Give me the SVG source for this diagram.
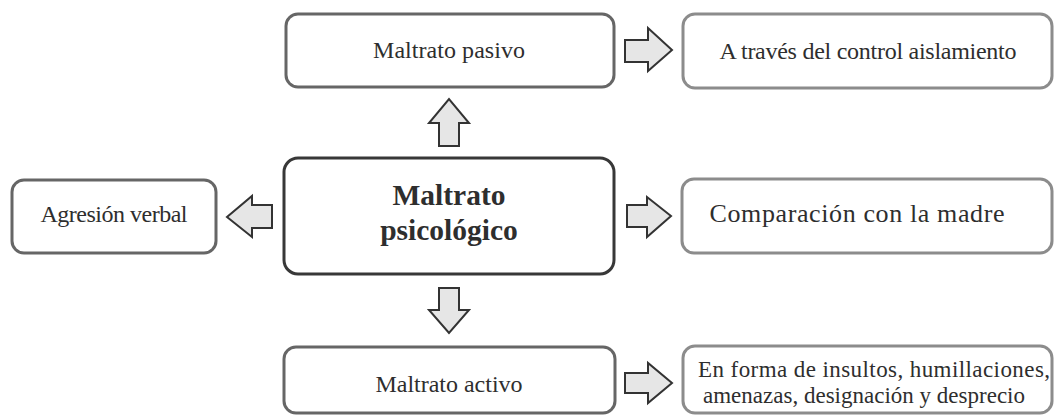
<svg xmlns="http://www.w3.org/2000/svg" width="1054" height="416" viewBox="0 0 1054 416">
<style>
text{font-family:"Liberation Serif","Times New Roman",serif;fill:#2e2e2e;text-anchor:middle;font-size:24px}
.b{font-weight:bold;font-size:29.5px}
.s{font-size:23px}
.l{font-size:26px}
.box{fill:#fff;stroke:#666;stroke-width:3}
.lt{stroke:#8c8c8c}
.main{stroke:#383838}
.arr{fill:#e6e6e6;stroke:#333;stroke-width:2;stroke-linejoin:miter}
</style>
<rect width="1054" height="416" fill="#fff"/>
<g id="connectors">
<polygon class="arr" points="439,146 439,123 429,123 449,99 469,123 459,123 459,146"/>
<polygon class="arr" points="439,288 459,288 459,310 469,310 449,333 429,310 439,310"/>
<polygon class="arr" points="272,205 252,205 252,196 227,217 252,237 252,228 272,228"/>
<polygon class="arr" points="627,205 647,205 647,197 671,216 647,237 647,227 627,227"/>
<polygon class="arr" points="625,40 648,40 648,28 672,50 648,71 648,62 625,62"/>
<polygon class="arr" points="625,373 648,373 648,363 672,383 648,403 648,393 625,393"/>
</g>
<g id="main">
<rect class="box main" x="284" y="158" width="330" height="116" rx="14"/>
<text class="b" x="449" y="205">Maltrato</text>
<text class="b" x="449" y="240">psicológico</text>
</g>
<g id="pasivo">
<rect class="box" x="286" y="14" width="328" height="73" rx="12"/>
<text x="449" y="58" textLength="152">Maltrato pasivo</text>
</g>
<g id="aislamiento">
<rect class="box lt" x="683" y="14" width="369" height="74" rx="12"/>
<text x="868" y="59" textLength="297">A través del control aislamiento</text>
</g>
<g id="verbal">
<rect class="box" x="12" y="180" width="204" height="73" rx="12"/>
<text x="114" y="222" textLength="147">Agresión verbal</text>
</g>
<g id="comparacion">
<rect class="box lt" x="682" y="179" width="370" height="74" rx="12"/>
<text class="l" x="857" y="222" textLength="295">Comparación con la madre</text>
</g>
<g id="activo">
<rect class="box" x="284" y="347" width="331" height="66" rx="12"/>
<text x="449" y="392" textLength="147">Maltrato activo</text>
</g>
<g id="insultos">
<rect class="box lt" x="683" y="346" width="369" height="67" rx="12"/>
<text class="s" x="874" y="377" textLength="352">En forma de insultos, humillaciones,</text>
<text class="s" x="864" y="403" textLength="322">amenazas, designación y desprecio</text>
</g>
</svg>
